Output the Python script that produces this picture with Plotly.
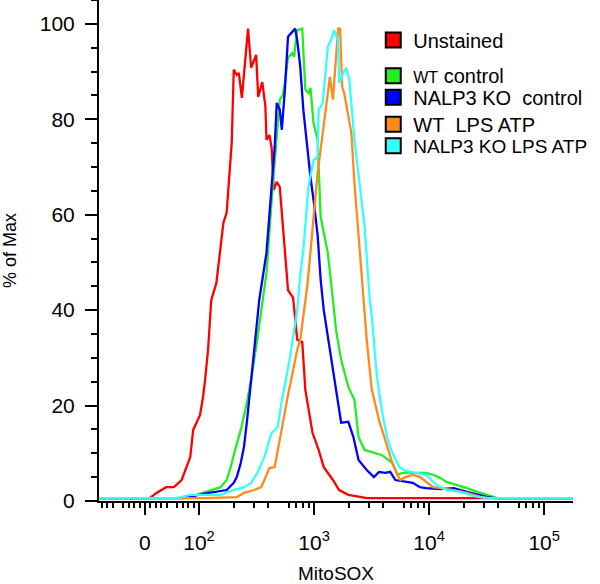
import numpy as np
import plotly.graph_objects as go

# ---------------- data (MitoSOX intensity, % of Max) ----------------
unstained_x = [-85, 8.9, 21.4, 39.3, 53.6, 67.9, 83.9, 89.3, 102, 108.5, 113, 120, 127.8, 141.7, 163, 174,
               192.6, 200.6, 213, 222, 236, 251, 267, 284, 314, 327, 355, 378, 386, 410, 428, 446, 474, 504,
               536, 594, 658, 714, 790, 840, 970, 1096, 1215, 1460, 1651, 1986, 2590, 2870, 180000]
unstained_y = [0.6, 0.6, 1.7, 2.9, 2.9, 4.4, 9.2, 14.9, 18.0, 21.8, 25.4, 31.7, 42.1, 45.7, 58.3, 60.4,
               75.1, 90.4, 89.3, 89.7, 84.5, 92.5, 99.0, 90.8, 93.5, 84.7, 87.8, 82.6, 75.7, 76.7, 74.0, 65.2,
               66.9, 65.8, 57.4, 44.2, 42.6, 33.8, 33.3, 23.3, 14.3, 10.7, 7.1, 4.4, 2.3, 1.3, 0.8, 0.6, 0.6]

wt_ctrl_x = [-85, 57.1, 83.9, 108.5, 133, 153.7, 174, 188.6, 209, 231, 256, 284, 321, 355, 386, 437, 484,
             504, 536, 558, 594, 645, 671, 714, 790, 840, 894, 931, 990, 1074, 1142, 1318, 1460, 1553, 1720,
             1986, 2244, 2436, 2754, 3178, 3900, 4786, 5300, 5873, 7664, 9404, 10850, 12530, 14160, 17380,
             21330, 26170, 32110, 39410, 180000]
wt_ctrl_y = [0.6, 0.6, 0.8, 1.7, 2.3, 2.9, 4.4, 7.1, 11.3, 14.9, 19.7, 25.4, 33.8, 42.1, 47.8, 65.8, 78.4,
             84.1, 85.1, 87.6, 92.9, 93.9, 93.1, 98.7, 99.0, 86.2, 85.5, 86.6, 79.2, 75.7, 59.5, 52.0, 42.1,
             35.8, 29.6, 23.9, 21.2, 13.4, 10.7, 10.3, 9.6, 8.0, 5.5, 5.9, 5.9, 5.9, 5.5, 4.8, 4.0, 3.4, 2.7,
             1.9, 1.3, 0.6, 0.6]

ko_ctrl_x = [-85, 71.4, 108.5, 147.5, 174, 200.6, 213, 231, 246, 262, 284, 334, 386, 455, 474, 504, 525,
             558, 594, 645, 685, 714, 759, 807, 876, 931, 990, 1074, 1142, 1215, 1345, 1553, 1720, 1986,
             2199, 2436, 2870, 3311, 3668, 4148, 4594, 5089, 6247, 7207, 8318, 9404, 12530, 16350, 21330,
             32110, 37060, 180000]
ko_ctrl_y = [0.6, 0.6, 1.5, 2.1, 2.3, 3.8, 5.0, 8.0, 11.3, 17.0, 25.4, 42.1, 52.0, 74.2, 83.4, 82.0, 77.8,
             86.2, 97.3, 98.3, 99.0, 96.6, 91.0, 82.0, 73.0, 67.9, 63.1, 55.8, 46.3, 40.0, 33.1, 23.3, 16.4,
             16.6, 13.4, 8.6, 6.5, 5.0, 6.1, 5.9, 6.1, 4.4, 4.0, 3.8, 2.9, 2.7, 2.5, 2.7, 1.9, 0.8, 0.6, 0.6]

wt_lps_x = [-85, 108.5, 213, 246, 302, 348, 370, 410, 455, 484, 536, 594, 645, 714, 759, 807, 876, 931,
            1010, 1074, 1190, 1265, 1373, 1460, 1521, 1585, 1618, 1685, 1756, 1829, 1986, 2111, 2244, 2436,
            2698, 2870, 3178, 3668, 4148, 4786, 5300, 5638, 6247, 7207, 8318, 9404, 10850, 12530, 16350,
            21330, 28400, 33450, 180000]
wt_lps_y = [0.6, 0.6, 0.8, 1.7, 2.3, 2.9, 4.4, 6.9, 7.1, 10.7, 15.9, 22.2, 26.4, 31.7, 33.8, 38.6, 45.3,
            52.2, 61.0, 68.8, 77.1, 82.6, 88.9, 84.1, 89.7, 94.5, 99.0, 99.0, 86.8, 85.5, 80.5, 77.1, 66.7,
            56.2, 42.1, 33.8, 23.3, 17.0, 12.8, 8.0, 5.5, 4.4, 5.0, 5.5, 5.0, 4.0, 2.9, 2.7, 2.3, 1.7, 0.8,
            0.6, 0.6]

ko_lps_x = [-85, 58.9, 83.9, 153.7, 200.6, 246, 284, 321, 370, 428, 484, 525, 558, 619, 714, 759, 807,
            840, 894, 990, 1074, 1096, 1190, 1318, 1402, 1491, 1618, 1651, 1792, 1905, 2026, 2244, 2590,
            2754, 3051, 3178, 3521, 3900, 4320, 4786, 5523, 6247, 7664, 9404, 11540, 14160, 18870, 24610,
            32110, 180000]
ko_lps_y = [0.6, 0.6, 1.3, 1.3, 2.3, 2.9, 3.8, 5.9, 9.2, 14.3, 15.5, 21.2, 24.3, 30.2, 40.0, 47.4, 52.6,
            57.4, 65.8, 71.5, 72.1, 82.0, 83.4, 95.2, 96.6, 98.7, 96.6, 87.6, 89.7, 90.8, 88.3, 75.7, 63.1,
            57.4, 42.1, 38.6, 26.0, 18.7, 13.2, 10.1, 7.1, 6.3, 5.9, 5.5, 3.4, 2.3, 1.9, 1.0, 0.6, 0.6]

series_names = ["Unstained", "WT control", "NALP3 KO  control", "WT  LPS ATP", "NALP3 KO  LPS ATP"]
legend_labels = ["Unstained",
                 "<span style='font-size:16px'>WT</span> control",
                 "NALP3 KO\u00a0 control",
                 "WT\u00a0 LPS ATP",
                 "NALP3 KO LPS ATP"]
legend_sizes = [20, 20, 20, 20, 19]
series_x = [unstained_x, wt_ctrl_x, ko_ctrl_x, wt_lps_x, ko_lps_x]
series_y = [unstained_y, wt_ctrl_y, ko_ctrl_y, wt_lps_y, ko_lps_y]
line_colors = ["#ff0000", "#22ee22", "#0000ff", "#ff8a1c", "#33ffff"]

major_ticks = [0, 100, 1000, 10000, 100000]
major_text = ["0", "10<sup>2</sup>", "10<sup>3</sup>", "10<sup>4</sup>", "10<sup>5</sup>"]
minor_ticks = ([-80, -70, -60, -40, -30, -20, -10, 10, 20, 30, 40, 60, 70, 80, 90]
               + [k * 10 ** n for n in (2, 3, 4) for k in (2, 3, 4, 6, 7, 8, 9)])
medium_ticks = [-50, 50, 500, 5000, 50000]
x_lo, x_hi = -85, 178000
y_ticks = [0, 20, 40, 60, 80, 100]


# biexponential-like display transform (linear near zero, log above 100)
def biex(v):
    v = np.asarray(v, dtype=float)
    return np.where(v >= 100, np.log10(np.clip(v, 100, None)), 2.0 + 0.004696 * (v - 100))


FONT = "Liberation Sans, Arial, Helvetica, sans-serif"
fig = go.Figure()

for name, xs, ys, col in zip(series_names, series_x, series_y, line_colors):
    fig.add_trace(go.Scatter(
        x=biex(xs), y=ys, customdata=xs, mode="lines", name=name,
        line=dict(color=col, width=2.3), showlegend=False, legendgroup=name,
        hovertemplate="MitoSOX %{customdata}<br>%{y:.1f} % of Max<extra>" + name + "</extra>"))

legend_keys = ["legend", "legend2", "legend3", "legend4", "legend5"]
legend_y = [0.920, 0.849, 0.806, 0.752, 0.709]
for name, lab, col, lk in zip(series_names, legend_labels, line_colors, legend_keys):
    fig.add_trace(go.Scatter(
        x=[None], y=[None], mode="markers", name=lab, legend=lk, legendgroup=name,
        marker=dict(symbol="square", size=15, color=col, line=dict(color="black", width=2)),
        showlegend=True))

rng = [float(biex(x_lo)), float(biex(x_hi))]

layout_legends = {}
for lk, ly, fs in zip(legend_keys, legend_y, legend_sizes):
    layout_legends[lk] = dict(x=0.5786, xanchor="left", y=ly, yanchor="middle",
                              bgcolor="rgba(0,0,0,0)", borderwidth=0,
                              font=dict(family=FONT, size=fs, color="black"))

fig.update_layout(
    width=600, height=584,
    margin=dict(l=99, r=27, t=0, b=83, pad=0, autoexpand=False),
    plot_bgcolor="white", paper_bgcolor="white",
    font=dict(family=FONT, color="black"),
    xaxis=dict(
        range=rng, showgrid=False, zeroline=False, automargin=False,
        showline=True, linecolor="black", linewidth=2,
        ticks="outside", ticklen=12, tickwidth=2, tickcolor="black",
        tickmode="array", tickvals=biex(major_ticks), ticktext=major_text,
        tickfont=dict(family=FONT, size=21, color="black"),
        ticklabelstandoff=10,
        minor=dict(tickmode="array", tickvals=biex(minor_ticks), ticks="outside",
                   ticklen=5, tickwidth=1.5, tickcolor="black", showgrid=False),
        title=dict(text="MitoSOX", font=dict(family=FONT, size=19, color="black"), standoff=14),
    ),
    xaxis2=dict(
        range=rng, overlaying="x", anchor="y", side="bottom", automargin=False,
        showgrid=False, zeroline=False, showline=False, showticklabels=False,
        ticks="outside", ticklen=8, tickwidth=2, tickcolor="black",
        tickmode="array", tickvals=biex(medium_ticks),
    ),
    yaxis=dict(
        range=[0, 105], showgrid=False, zeroline=False, automargin=False,
        showline=True, linecolor="black", linewidth=2,
        ticks="outside", ticklen=12, tickwidth=2, tickcolor="black",
        tickmode="array", tickvals=y_ticks,
        tickfont=dict(family=FONT, size=21, color="black"),
        ticklabelstandoff=6,
        minor=dict(dtick=5, ticks="outside", ticklen=6, tickwidth=2, tickcolor="black", showgrid=False),
        title=dict(text="% of Max", font=dict(family=FONT, size=18, color="black"), standoff=18),
    ),
    **layout_legends,
)

fig.write_html("out.html", config={"displayModeBar": False},
               post_script="document.body.style.margin='0';")
